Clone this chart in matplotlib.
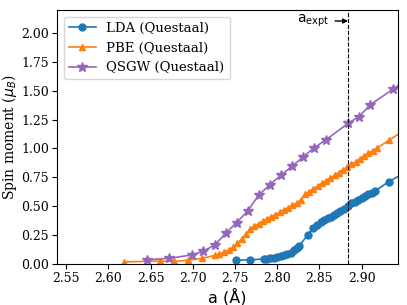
import matplotlib
matplotlib.use('Agg')
import matplotlib.pyplot as plt

# lattice constant (Angstrom) and spin moment (mu_B)
lda_a = [2.751, 2.768, 2.784, 2.788, 2.792, 2.796, 2.800, 2.804, 2.808, 2.812,
         2.816, 2.820, 2.824, 2.826, 2.836, 2.842, 2.847, 2.852, 2.856, 2.860,
         2.864, 2.867, 2.871, 2.875, 2.879, 2.884, 2.888, 2.892, 2.896, 2.900,
         2.904, 2.908, 2.912, 2.916, 2.932, 2.950]
lda_m = [0.029, 0.032, 0.040, 0.043, 0.046, 0.052, 0.058, 0.063, 0.072, 0.081,
         0.095, 0.115, 0.136, 0.153, 0.246, 0.304, 0.338, 0.359, 0.376, 0.393,
         0.408, 0.422, 0.440, 0.457, 0.471, 0.497, 0.521, 0.535, 0.552, 0.570,
         0.584, 0.602, 0.616, 0.630, 0.709, 0.785]

pbe_a = [2.619, 2.661, 2.678, 2.694, 2.711, 2.726, 2.731, 2.737, 2.743, 2.748,
         2.753, 2.758, 2.763, 2.768, 2.773, 2.778, 2.783, 2.788, 2.793, 2.798,
         2.803, 2.808, 2.813, 2.818, 2.823, 2.828, 2.833, 2.838, 2.843, 2.848,
         2.853, 2.858, 2.863, 2.868, 2.873, 2.878, 2.883, 2.888, 2.893, 2.898,
         2.903, 2.908, 2.913, 2.918, 2.932, 2.948]
pbe_m = [0.014, 0.022, 0.018, 0.029, 0.045, 0.070, 0.080, 0.098, 0.118, 0.145,
         0.175, 0.215, 0.255, 0.300, 0.325, 0.345, 0.365, 0.385, 0.405, 0.425,
         0.445, 0.465, 0.485, 0.505, 0.525, 0.548, 0.600, 0.625, 0.650, 0.672,
         0.695, 0.718, 0.742, 0.765, 0.790, 0.815, 0.840, 0.862, 0.885, 0.910,
         0.932, 0.955, 0.980, 1.000, 1.068, 1.145]

qsgw_a = [2.646, 2.672, 2.699, 2.712, 2.726, 2.739, 2.752, 2.765, 2.778, 2.791,
          2.805, 2.818, 2.831, 2.844, 2.858, 2.884, 2.897, 2.910, 2.937, 2.950]
qsgw_m = [0.033, 0.045, 0.075, 0.105, 0.160, 0.262, 0.356, 0.455, 0.593, 0.682,
          0.770, 0.846, 0.927, 1.005, 1.075, 1.217, 1.275, 1.377, 1.512, 1.580]

a_expt = 2.884

plt.rcParams['font.family'] = 'serif'
plt.rcParams['font.serif'] = ['DejaVu Serif']

fig = plt.figure(figsize=(4.07, 3.05), dpi=100)
ax = fig.add_axes([0.141, 0.136, 0.836, 0.831])

ax.plot(lda_a, lda_m, marker='o', color='C0', ms=5, lw=1.2, label='LDA (Questaal)')
ax.plot(pbe_a, pbe_m, marker='^', color='C1', ms=5, lw=1.2, label='PBE (Questaal)')
ax.plot(qsgw_a, qsgw_m, marker='*', color='C4', ms=7.5, lw=1.2, label='QSGW (Questaal)')

ax.axvline(a_expt, color='k', ls='--', lw=0.8)
ax.annotate(r'a$_{\rm expt}$', xy=(a_expt, 2.105), xytext=(2.862, 2.105),
            ha='right', va='center', fontsize=10, family='sans-serif',
            arrowprops=dict(arrowstyle='-|>', color='k', lw=1,
                            shrinkA=2, shrinkB=0, mutation_scale=7))

ax.set_xlim(2.5397, 2.9427)
ax.set_ylim(0, 2.2)
ax.set_xticks([2.55, 2.60, 2.65, 2.70, 2.75, 2.80, 2.85, 2.90])
ax.set_yticks([0, 0.25, 0.5, 0.75, 1.0, 1.25, 1.5, 1.75, 2.0])
ax.tick_params(labelsize=9, pad=2.5)

ax.set_xlabel('a (Å)', family='sans-serif', fontsize=11.5, labelpad=2)
ax.set_ylabel(r'Spin moment ($\mu_B$)', fontsize=10, labelpad=1.5)
ax.legend(loc='upper left', fontsize=9.5)

fig.savefig('out.png', dpi=100)
